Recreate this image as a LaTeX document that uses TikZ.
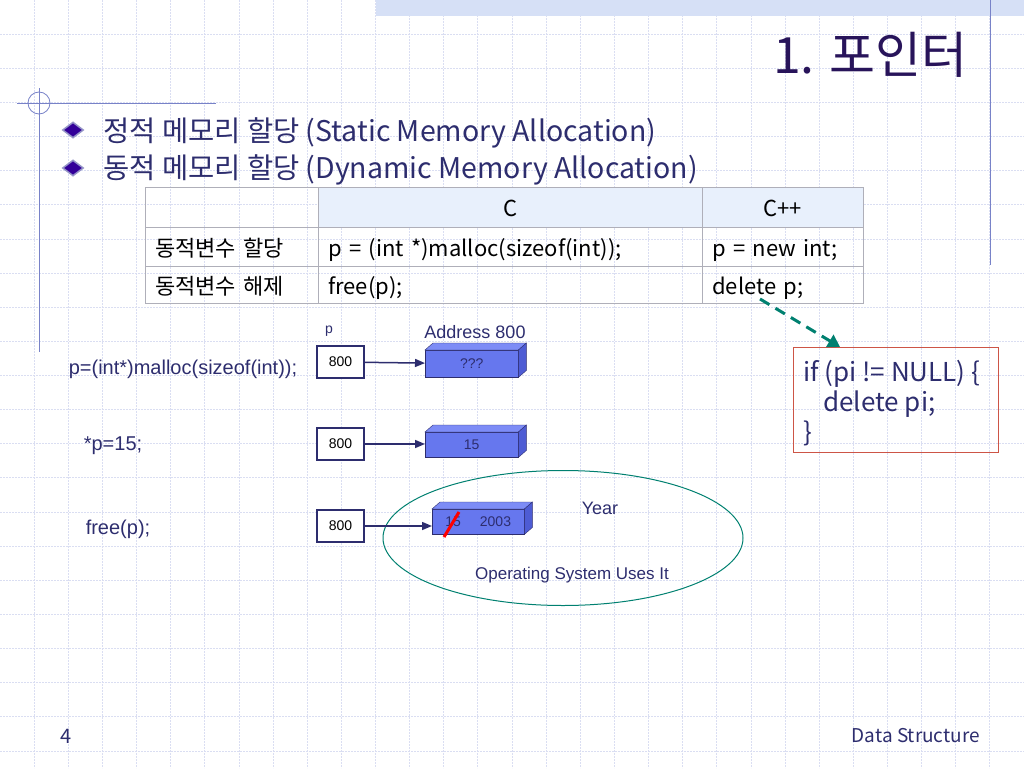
\documentclass[tikz,border=0pt]{standalone}
\usepackage{fontspec}
\setmainfont{Noto Sans CJK KR}
\newfontfamily\arialfont{Liberation Sans}
\usepackage{xcolor}
\usetikzlibrary{shapes.geometric, arrows.meta, positioning, calc}

\definecolor{navy}{RGB}{45,45,110}
\definecolor{titlecol}{RGB}{40,20,90}
\definecolor{gridcol}{RGB}{218,222,242}
\definecolor{rulecol}{RGB}{120,130,200}
\definecolor{bandcol}{RGB}{214,224,246}
\definecolor{bulletcol}{RGB}{51,0,153}
\definecolor{bulletedge}{RGB}{150,150,200}
\definecolor{cellgray}{RGB}{175,175,185}
\definecolor{headfill}{RGB}{232,240,252}
\definecolor{teal}{RGB}{0,128,112}
\definecolor{codered}{RGB}{205,85,70}
\definecolor{memfront}{RGB}{102,119,238}
\definecolor{memtop}{RGB}{125,140,246}
\definecolor{memside}{RGB}{78,92,212}

\begin{document}
\begin{tikzpicture}[
    x=1pt, y=-1pt,
    gridline/.style={gridcol, line width=0.8pt, dash pattern=on 2pt off 1pt},
    bullet/.style={diamond, fill=bulletcol, draw=bulletedge, line width=1.5pt, minimum width=21pt, minimum height=16pt, inner sep=0pt},
    bullettext/.style={anchor=west, text=navy, inner sep=0pt, font=\fontsize{28.5pt}{32pt}\selectfont},
    cell/.style={draw=cellgray, anchor=north west, inner xsep=10pt, inner ysep=0pt, text height=22pt, text depth=2.5pt, font=\fontsize{22pt}{26pt}\selectfont},
    ptrbox/.style={draw=navy, line width=2pt, fill=white, minimum width=47pt, minimum height=32pt, anchor=north west, inner sep=0pt, font=\arialfont\fontsize{14pt}{16pt}\selectfont},
    mem/.style={draw=navy, fill=memfront, minimum width=93pt, anchor=north west, inner sep=0pt, text=navy, font=\arialfont\fontsize{14pt}{16pt}\selectfont},
    lbl/.style={text=navy, inner sep=0pt, font=\arialfont\fontsize{18pt}{20pt}\selectfont},
    code/.style={text=navy, inner sep=0pt, font=\arialfont\fontsize{20pt}{22pt}\selectfont},
    arrow/.style={-{Triangle[length=10pt, width=8pt]}, navy, line width=1.5pt}
]
    \useasboundingbox (0,0) rectangle (1024,768);

    % Background grid and slide decoration
    \foreach \i in {1,...,29} \draw[gridline] (\i*34.133,0) -- (\i*34.133,768);
    \foreach \j in {1,...,22} \draw[gridline] (0,\j*34.133) -- (1024,\j*34.133);
    \fill[bandcol] (376,0) rectangle (1024,16);
    \draw[rulecol, line width=1pt] (990,0) -- (990,265);
    \draw[rulecol, line width=1pt] (39,88) -- (39,352);
    \draw[rulecol, line width=1pt] (17,103) -- (216,103);
    \draw[rulecol, line width=0.8pt] (39,103) circle (11);

    % Title and bullets
    \node[anchor=east, text=titlecol, inner sep=0pt, font=\fontsize{50pt}{56pt}\selectfont] (title) at (968,55) {1. 포인터};
    \node[bullet] (b1) at (73,130) {};
    \node[bullet] (b2) at (73,168) {};
    \node[bullettext] (static) at (103,133) {정적 메모리 할당 (Static Memory Allocation)};
    \node[bullettext] (dynamic) at (103,170) {동적 메모리 할당 (Dynamic Memory Allocation)};

    % Table
    \node[cell, text width=153pt, minimum height=40pt] (h0) at (145,187) {};
    \node[cell, fill=headfill, text width=364pt, minimum height=40pt, align=center] (h1) at (318,187) {C};
    \node[cell, fill=headfill, text width=141pt, minimum height=40pt, align=center] (h2) at (702,187) {C++};
    \node[cell, text width=153pt, minimum height=39pt] (a0) at (145,227) {동적변수 할당};
    \node[cell, text width=364pt, minimum height=39pt] (a1) at (318,227) {p = (int *)malloc(sizeof(int));};
    \node[cell, text width=141pt, minimum height=39pt] (a2) at (702,227) {p = new int;};
    \node[cell, text width=153pt, minimum height=37pt] (d0) at (145,266) {동적변수 해제};
    \node[cell, text width=364pt, minimum height=37pt] (d1) at (318,266) {free(p);};
    \node[cell, text width=141pt, minimum height=37pt] (d2) at (702,266) {delete p;};

    % C++ delete note
    \node[draw=codered, line width=1pt, anchor=north west, minimum width=205pt, minimum height=105pt, inner sep=0pt] (note) at (793,347) {};
    \node[anchor=north west, align=left, text=navy, inner sep=0pt, font=\fontsize{26pt}{30pt}\selectfont] (notetext) at (803,360) {if (pi != NULL) \{\\\hspace*{20pt}delete pi;\\\}};
    \coordinate (delstart) at (760,299);
    \coordinate (delend) at (840,347);
    \draw[teal, line width=3pt, dash pattern=on 11pt off 7pt, -{Triangle[length=12pt, width=14pt]}] (delstart) -- (delend);

    % Left column - statements
    \node[code] (stmalloc) at (183,369) {p=(int*)malloc(sizeof(int));};
    \node[code] (stset) at (113,446) {*p=15;};
    \node[code] (stfree) at (118,529) {free(p);};

    % Pointer boxes
    \node[ptrbox] (ptr1) at (316,345) {800};
    \node[ptrbox] (ptr2) at (316,427) {800};
    \node[ptrbox] (ptr3) at (316,509) {800};
    \node[lbl, font=\arialfont\fontsize{14pt}{16pt}\selectfont] (plab) at (329,331) {p};

    % Freed memory region
    \node[ellipse, draw=teal, line width=1pt, minimum width=360pt, minimum height=135pt] (os) at (563,538) {};

    % Memory cells
    \node[mem, minimum height=27pt] (mem1) at (425,350) {???};
    \node[mem, minimum height=25pt] (mem2) at (425,432) {\raisebox{-4pt}{15}};
    \node[mem, minimum height=25pt, minimum width=92pt] (mem3) at (432,509) {15\hspace{19pt}2003};
    \foreach \m in {mem1,mem2,mem3} {
        \filldraw[draw=navy, fill=memtop] (\m.north west) -- ++(8,-7) -- ($(\m.north east)+(8,-7)$) -- (\m.north east) -- cycle;
        \filldraw[draw=navy, fill=memside] (\m.north east) -- ++(8,-7) -- ($(\m.south east)+(8,-7)$) -- (\m.south east) -- cycle;
    }
    \draw[red, line width=3pt] (444,537) -- (459,512);

    \node[lbl] (addr) at (475,332) {Address 800};
    \node[lbl] (year) at (600,508) {Year};
    \node[lbl, font=\arialfont\fontsize{17pt}{19pt}\selectfont] (osuse) at (572,575) {Operating System Uses It};

    % Arrows
    \draw[arrow] (ptr1) -- (mem1);
    \draw[arrow] (ptr2) -- (mem2.west |- ptr2);
    \draw[arrow] (ptr3) -- (mem3.west |- ptr3);

    % Footer
    \node[text=navy, inner sep=0pt, font=\fontsize{20pt}{22pt}\selectfont] (page) at (66,736) {4};
    \node[anchor=east, text=navy, inner sep=0pt, font=\fontsize{19pt}{22pt}\selectfont] (footer) at (980,736) {Data Structure};
\end{tikzpicture}
\end{document}
